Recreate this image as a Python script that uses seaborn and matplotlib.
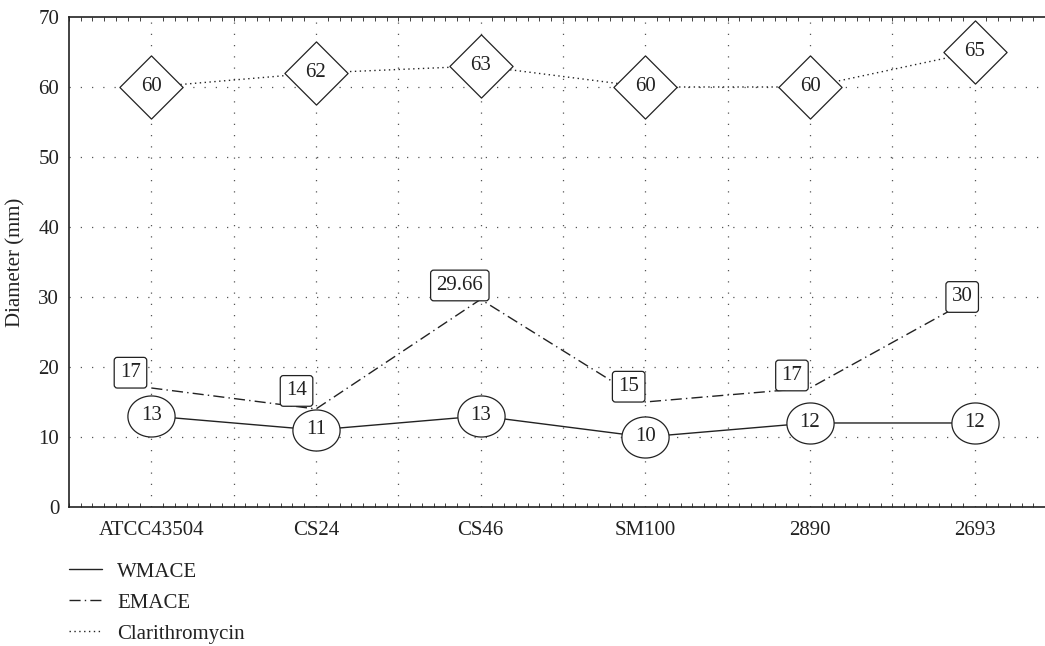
import numpy as np
import pandas as pd
import matplotlib
matplotlib.use("Agg")
import matplotlib.pyplot as plt
from matplotlib.path import Path
from matplotlib.ticker import MultipleLocator
import seaborn as sns

sns.set_theme(style="white")
plt.rcParams['font.family'] = ['Liberation Serif', 'DejaVu Serif']

# data
strains = ["ATCC43504", "CS24", "CS46", "SM100", "2890", "2693"]
wmace = [13, 11, 13, 10, 12, 12]
emace = [17, 14, 29.66, 15, 17, 30]
clari = [60, 62, 63, 60, 60, 65]
series = ["WMACE", "EMACE", "Clarithromycin"]

pos = np.arange(len(strains))
df = pd.DataFrame({
    "pos": np.tile(pos, 3),
    "value": wmace + emace + clari,
    "series": np.repeat(series, len(strains)),
})

ink = "#222222"
fs = 15

fig = plt.figure(figsize=(10.45, 6.46), dpi=100)
ax = fig.add_axes([0.066, 0.2152, 0.9455, 0.7585])

dashes = {"WMACE": "", "EMACE": (8, 3, 1, 3), "Clarithromycin": (1, 2.5)}
sns.lineplot(data=df, x="pos", y="value", style="series", dashes=dashes,
             color=ink, linewidth=1.0, sort=False, ax=ax, legend=False, zorder=2)

# marker shapes
t = np.linspace(0, 2 * np.pi, 60)
ellipse = Path(np.column_stack([np.cos(t), 0.87 * np.sin(t)]), closed=True)
diamond = Path([(0, 1), (1, 0), (0, -1), (-1, 0), (0, 1)], closed=True)

ax.scatter(pos, wmace, marker=ellipse, s=34 ** 2, facecolor="white",
           edgecolor=ink, linewidth=0.9, zorder=3)
ax.scatter(pos, clari, marker=diamond, s=45.5 ** 2, facecolor="white",
           edgecolor=ink, linewidth=0.9, zorder=3)

for p, v in zip(pos, wmace):
    ax.text(p, v, f"{v:g}", ha="center", va="center", fontsize=fs, color=ink, zorder=4)
for p, v in zip(pos, clari):
    ax.text(p, v, f"{v:g}", ha="center", va="center", fontsize=fs, color=ink, zorder=4)

box_offsets = [(-15, 11), (-14, 13), (-15, 10), (-12, 11), (-13, 9), (-9, 0)]
for p, v, off in zip(pos, emace, box_offsets):
    ax.annotate(f"{v:g}", xy=(p, v), xytext=off, textcoords="offset points",
                ha="center", va="center", fontsize=fs, color=ink, zorder=4,
                bbox=dict(boxstyle="round,pad=0.28,rounding_size=0.15",
                          facecolor="white", edgecolor=ink, linewidth=0.9))

ax.set_xlim(-0.5, 5.5)
ax.set_ylim(0, 70)
ax.set_xticks(pos)
ax.set_xticklabels(strains)
ax.set_yticks(range(0, 71, 10))
ax.tick_params(axis="both", which="major", length=0, labelsize=fs, colors=ink)
ax.tick_params(axis="x", pad=10)
ax.tick_params(axis="y", pad=7)
ax.xaxis.set_minor_locator(MultipleLocator(0.5 / 7))
ax.tick_params(axis="x", which="minor", direction="in", length=3, width=0.6,
               top=True, bottom=True, color=ink)
ax.set_xlabel("")
ax.set_ylabel("Diameter (mm)", fontsize=fs, color=ink, labelpad=9)

grid_kw = dict(color="#555555", linewidth=0.9, linestyle=(0, (1, 8)), zorder=1)
for y in range(10, 70, 10):
    ax.axhline(y, **grid_kw)
for x in np.arange(0, 5.6, 0.5):
    ax.axvline(x, **grid_kw)

for side in ["left", "bottom", "top", "right"]:
    ax.spines[side].set_color(ink)
    ax.spines[side].set_linewidth(1.2)

handles = [plt.Line2D([], [], color=ink, linewidth=1.0,
                      linestyle=(0, dashes[s]) if dashes[s] else "-") for s in series]
fig.legend(handles, series, loc="upper left", bbox_to_anchor=(0.066, 0.13),
           frameon=False, fontsize=fs, handlelength=1.6, handletextpad=0.7,
           labelspacing=0.55, borderpad=0, borderaxespad=0, labelcolor=ink)

fig.savefig("out.png", dpi=100)
